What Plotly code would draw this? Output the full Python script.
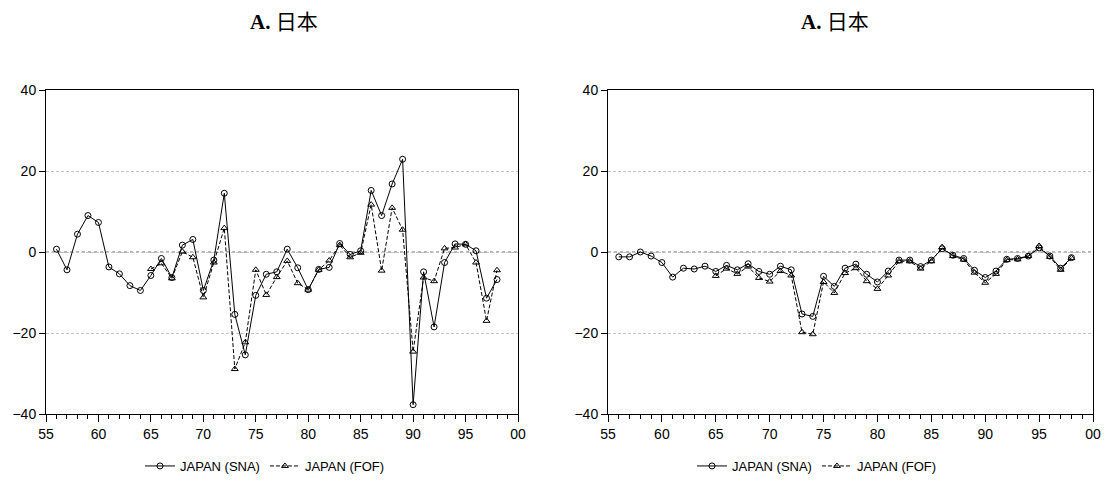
import plotly.graph_objects as go

# ---- data ----
years_sna = [1956, 1957, 1958, 1959, 1960, 1961, 1962, 1963, 1964, 1965, 1966, 1967, 1968, 1969, 1970,
             1971, 1972, 1973, 1974, 1975, 1976, 1977, 1978, 1979, 1980, 1981, 1982, 1983, 1984, 1985,
             1986, 1987, 1988, 1989, 1990, 1991, 1992, 1993, 1994, 1995, 1996, 1997, 1998]
years_fof = [1965, 1966, 1967, 1968, 1969, 1970, 1971, 1972, 1973, 1974, 1975, 1976, 1977, 1978, 1979,
             1980, 1981, 1982, 1983, 1984, 1985, 1986, 1987, 1988, 1989, 1990, 1991, 1992, 1993, 1994,
             1995, 1996, 1997, 1998]

left_sna = [0.7, -4.4, 4.4, 9.0, 7.3, -3.7, -5.4, -8.3, -9.5, -5.8, -1.6, -6.3, 1.7, 3.1, -9.5,
            -2.0, 14.5, -15.4, -25.4, -10.7, -5.5, -4.9, 0.7, -3.9, -9.3, -4.3, -3.8, 2.1, -0.6, 0.3,
            15.2, 9.0, 16.8, 22.9, -37.7, -4.9, -18.5, -2.6, 2.0, 1.9, 0.3, -11.4, -6.8]
left_fof = [-4.2, -2.8, -6.5, 0.1, -1.3, -11.2, -2.6, 5.9, -28.9, -22.3, -4.4, -10.6, -6.2, -2.2, -7.7,
            -9.3, -4.4, -2.1, 1.7, -1.3, -0.2, 11.7, -4.6, 10.9, 5.5, -24.6, -6.3, -7.2, 0.9, 1.1,
            1.9, -2.6, -17.0, -4.5]

right_sna = [-1.2, -1.2, 0.0, -1.0, -2.6, -6.2, -4.0, -4.2, -3.5, -4.8, -3.3, -4.4, -2.9, -4.8, -5.5,
             -3.5, -4.4, -15.3, -15.9, -6.0, -8.5, -4.0, -3.0, -5.5, -7.4, -4.7, -2.0, -2.0, -3.6, -2.0,
             0.8, -0.8, -1.6, -4.5, -6.3, -4.7, -1.8, -1.6, -1.0, 1.0, -1.0, -4.0, -1.4]
right_fof = [-5.9, -4.1, -5.4, -3.6, -6.4, -7.3, -4.7, -5.8, -19.8, -20.3, -7.4, -10.1, -5.2, -4.0, -7.2,
             -9.1, -5.8, -2.3, -2.3, -4.1, -2.3, 1.2, -1.0, -1.9, -5.1, -7.6, -5.4, -2.0, -1.8, -1.0,
             1.5, -1.2, -4.4, -1.5]

x_tickvals = [1955, 1960, 1965, 1970, 1975, 1980, 1985, 1990, 1995, 2000]
x_ticktext = ["55", "60", "65", "70", "75", "80", "85", "90", "95", "00"]
y_tickvals = [-40, -20, 0, 20, 40]

title_text = "<b>A.</b> 日本"
name_sna = "JAPAN (SNA)"
name_fof = "JAPAN (FOF)"

# ---- layout geometry ----
W, H = 1105, 488
def px_x(p):
    return p / W
def px_y(p):
    return 1 - p / H

fig = go.Figure()

panels = [
    (left_sna, left_fof, "x", "y", "legend", (46, 518)),
    (right_sna, right_fof, "x2", "y2", "legend2", (608, 1093)),
]

for sna, fof, xa, ya, lg, _ in panels:
    fig.add_trace(go.Scatter(
        x=years_sna, y=sna, name=name_sna, mode="lines+markers",
        line=dict(color="black", width=1),
        marker=dict(symbol="circle-open", size=6, color="black", line=dict(width=1)),
        xaxis=xa, yaxis=ya, legend=lg))
    fig.add_trace(go.Scatter(
        x=years_fof, y=fof, name=name_fof, mode="lines+markers",
        line=dict(color="black", width=1, dash="4px,2px"),
        marker=dict(symbol="triangle-up-open", size=6, color="black", line=dict(width=1)),
        xaxis=xa, yaxis=ya, legend=lg))

tick_font = dict(family="Liberation Sans, Arial, sans-serif", size=14, color="black")

def xaxis_cfg(dom):
    return dict(
        domain=[px_x(dom[0]), px_x(dom[1])],
        range=[1955, 2000], tickvals=x_tickvals, ticktext=x_ticktext,
        ticks="outside", ticklen=7, tickwidth=1, tickcolor="black",
        minor=dict(dtick=1, tick0=1955, ticks="outside", ticklen=4, tickwidth=1, tickcolor="black", showgrid=False),
        showline=True, linecolor="black", linewidth=1, mirror=True,
        showgrid=False, zeroline=False, tickfont=tick_font, automargin=False,
    )

def yaxis_cfg():
    return dict(
        domain=[px_y(414), px_y(90)],
        range=[-40, 40], tickvals=y_tickvals,
        ticks="outside", ticklen=6, tickwidth=1, tickcolor="black",
        showline=True, linecolor="black", linewidth=1, mirror=True,
        showgrid=True, gridcolor="#c4c4c4", griddash="3px,2px", gridwidth=1,
        zeroline=False, tickfont=tick_font, automargin=False,
    )

legend_font = dict(family="Liberation Sans, Arial, sans-serif", size=13, color="black")

fig.update_layout(
    width=W, height=H,
    margin=dict(l=0, r=0, t=0, b=0, pad=0, autoexpand=False),
    paper_bgcolor="white", plot_bgcolor="white",
    xaxis=xaxis_cfg(panels[0][5]),
    xaxis2=dict(xaxis_cfg(panels[1][5]), anchor="y2"),
    yaxis=yaxis_cfg(),
    yaxis2=dict(yaxis_cfg(), anchor="x2"),
    legend=dict(orientation="h", x=px_x(265), y=px_y(466), xanchor="center", yanchor="middle",
                font=legend_font, bgcolor="rgba(0,0,0,0)", itemwidth=30),
    legend2=dict(orientation="h", x=px_x(817), y=px_y(466), xanchor="center", yanchor="middle",
                 font=legend_font, bgcolor="rgba(0,0,0,0)", itemwidth=30),
    showlegend=True,
)

# zero reference lines (dotted)
for xr, yr in [("x domain", "y"), ("x2 domain", "y2")]:
    fig.add_shape(type="line", xref=xr, yref=yr, x0=0, x1=1, y0=0, y1=0,
                  line=dict(color="#6a6a6a", width=1, dash="dot"), layer="below")

# titles
for cx in [284, 835]:
    fig.add_annotation(text=title_text, x=px_x(cx), y=px_y(22), xref="paper", yref="paper",
                       showarrow=False, xanchor="center", yanchor="middle",
                       font=dict(family="Liberation Serif, Noto Sans CJK SC, serif", size=21, color="black"))

fig.write_html("out.html",
               config={"displayModeBar": False},
               post_script="document.body.style.margin='0px';document.body.style.overflow='hidden';")
